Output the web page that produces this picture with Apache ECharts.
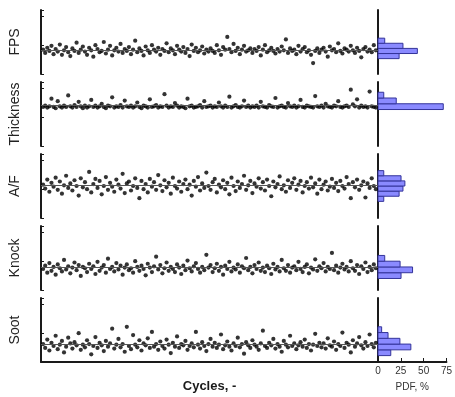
<!DOCTYPE html>
<html>
<head>
<meta charset="utf-8">
<script src="https://cdn.jsdelivr.net/npm/echarts@6/dist/echarts.min.js"></script>
<style>
  html, body { margin: 0; padding: 0; background: #fff; }
  #chart { width: 455px; height: 397px; }
</style>
</head>
<body>
<div id="chart"></div>
<script>
// Per-cycle signals (normalised 0-100 within each panel)
const panelNames = ['FPS', 'Thickness', 'A/F', 'Knock', 'Soot'];

const fpsValues = [
  38,33,41,36,44,31,39,35,46,30,37,42,34,28,40,36,49,33,38,43,
  35,30,41,37,27,45,39,34,36,50,32,38,44,29,37,41,35,47,33,39,
  36,42,31,38,52,34,40,36,29,43,37,33,45,38,35,41,30,39,36,48,
  34,40,37,31,44,38,35,42,33,39,28,46,36,41,34,37,43,32,38,35,
  40,36,33,45,37,30,42,38,58,39,34,47,36,41,31,38,44,35,37,40,
  33,39,36,42,29,38,45,34,37,41,36,32,39,35,43,37,54,33,40,36,
  38,31,44,35,39,42,34,37,30,17,36,40,33,38,41,35,27,43,37,39,
  34,48,36,32,40,38,35,44,37,33,41,36,26,39,42,35,38,34,45,37
];
const thicknessValues = [
  61,63,60,62,74,61,59,70,62,60,63,61,79,62,60,64,61,69,62,59,
  63,60,62,72,61,63,60,62,66,61,59,63,62,76,60,62,61,64,60,71,
  62,61,63,60,62,68,61,59,63,62,60,73,61,62,64,60,62,61,81,63,
  60,62,61,67,63,60,62,61,59,74,62,63,60,61,62,64,60,70,61,62,
  63,60,62,61,68,62,60,63,61,77,60,62,64,61,60,62,71,61,63,60,
  62,61,63,60,69,62,61,60,64,62,61,75,60,62,63,61,60,67,62,61,
  63,60,62,72,61,60,63,62,61,60,78,62,61,63,60,66,62,61,60,63,
  62,70,61,60,62,63,61,88,65,62,73,60,63,61,62,60,85,62,61,60
];
const afValues = [
  52,46,60,41,55,49,63,44,57,38,51,66,47,54,43,59,50,35,62,48,
  56,45,72,40,53,61,47,58,37,50,64,44,55,49,41,60,52,46,69,39,
  54,57,43,50,62,47,31,58,45,53,40,61,49,56,44,67,51,42,59,48,
  55,38,63,50,46,57,41,53,60,45,52,35,58,49,64,43,54,47,71,50,
  44,56,61,40,52,48,59,45,55,37,63,50,42,57,47,53,66,44,51,58,
  39,54,49,62,46,56,43,60,50,34,57,48,53,65,45,51,41,59,47,55,
  62,44,52,58,40,50,56,46,63,48,54,38,60,45,52,57,43,49,61,47,
  55,42,58,50,46,64,53,31,56,48,60,44,51,57,32,54,47,62,50,45
];
const knockValues = [
  33,38,27,42,30,36,24,40,34,29,47,32,37,26,35,43,31,39,22,36,
  34,28,41,33,37,25,44,30,35,39,27,49,33,36,29,42,32,38,24,35,
  40,31,34,27,45,36,30,38,33,23,41,35,28,37,52,32,39,26,34,43,
  30,36,33,28,40,35,25,38,31,46,34,29,37,42,33,27,36,31,55,35,
  39,28,34,41,30,36,24,38,33,44,29,35,32,40,27,37,34,50,31,36,
  26,39,33,43,30,35,28,38,34,25,41,32,36,29,47,34,30,39,27,35,
  37,31,44,33,28,36,40,26,35,32,48,30,37,34,42,29,36,33,58,31,
  38,27,35,41,32,36,29,45,34,30,39,25,37,33,43,28,36,31,40,34
];
const sootValues = [
  28,22,35,18,30,25,41,20,27,33,15,24,38,29,21,31,26,45,19,27,
  23,34,28,12,25,39,22,30,26,17,33,24,29,52,21,27,36,23,28,16,
  55,25,20,42,27,23,34,18,29,26,37,22,47,24,28,19,32,25,21,35,
  27,14,30,24,40,22,28,26,33,19,25,29,23,47,27,21,31,25,17,28,
  36,24,30,22,27,43,20,26,32,24,18,29,25,38,23,28,13,31,26,22,
  34,27,24,19,29,49,25,22,30,26,36,21,28,24,16,33,27,23,41,25,
  29,20,26,31,24,35,22,28,18,27,44,25,30,23,29,21,37,26,24,32,
  19,28,25,46,22,30,27,15,34,24,29,39,26,21,31,25,43,28,23,30
];

// Probability density (%) per bin; bin edges on the same 0-100 scale
const fpsBinEdges = [24, 32, 40, 48, 56];
const fpsPdf = [22, 41, 26, 7];
const thicknessBinEdges = [57, 66, 75, 84];
const thicknessPdf = [68, 19, 6];
const afBinEdges = [26, 34, 42, 50, 58, 66, 74];
const afPdf = [6, 22, 26, 28, 24, 6];
const knockBinEdges = [18, 27, 36, 45, 54];
const knockPdf = [24, 36, 23, 7];
const sootBinEdges = [10, 19, 28, 37, 46, 55];
const sootPdf = [14, 36, 24, 11, 4];

const pdfTicks = [0, 25, 50, 75];

const panelValues = [fpsValues, thicknessValues, afValues, knockValues, sootValues];
const panelBinEdges = [fpsBinEdges, thicknessBinEdges, afBinEdges, knockBinEdges, sootBinEdges];
const panelPdf = [fpsPdf, thicknessPdf, afPdf, knockPdf, sootPdf];

const FONT = '"Liberation Sans", Arial, sans-serif';
const INK = '#1a1a1a';
const tops = [10, 82, 154, 226, 298];
const PANEL_H = 64;

const grids = [], xAxes = [], yAxes = [], series = [];

panelNames.forEach((name, i) => {
  const last = i === panelNames.length - 1;
  const sIdx = 2 * i, hIdx = 2 * i + 1;

  grids.push({ left: 40, top: tops[i], width: 338, height: PANEL_H });
  grids.push({ left: 378, top: tops[i], width: 72, height: PANEL_H });

  // cycle axis
  xAxes.push({
    gridIndex: sIdx, type: 'value', min: 0, max: panelValues[i].length + 1,
    show: last,
    axisLine: { show: last, onZero: false, lineStyle: { color: INK, width: 2 } },
    axisTick: { show: false }, axisLabel: { show: false }, splitLine: { show: false },
    name: last ? 'Cycles, -' : '', nameLocation: 'middle', nameGap: 18,
    nameTextStyle: { fontFamily: FONT, fontSize: 13, fontWeight: 'bold', color: INK }
  });
  // PDF axis
  xAxes.push({
    gridIndex: hIdx, type: 'value', min: pdfTicks[0], max: pdfTicks[pdfTicks.length - 1],
    interval: pdfTicks[1] - pdfTicks[0],
    show: last,
    axisLine: { show: last, onZero: false, lineStyle: { color: INK, width: 2 } },
    axisTick: { show: last, inside: true, length: 4, lineStyle: { color: INK, width: 1 } },
    axisLabel: { show: last, fontFamily: FONT, fontSize: 10, color: '#333', margin: 4 },
    splitLine: { show: false },
    name: last ? 'PDF, %' : '', nameLocation: 'middle', nameGap: 20,
    nameTextStyle: { fontFamily: FONT, fontSize: 10, color: '#333' }
  });

  yAxes.push({
    gridIndex: sIdx, type: 'value', min: 0, max: 100, interval: 45,
    axisLine: { show: true, onZero: false, lineStyle: { color: INK, width: 2 } },
    axisTick: { show: true, inside: true, length: 3, lineStyle: { color: INK, width: 1 } },
    axisLabel: { show: false }, splitLine: { show: false },
    name: name, nameLocation: 'middle', nameRotate: 90, nameGap: 19,
    nameTextStyle: { fontFamily: FONT, fontSize: 14, color: '#222' }
  });
  yAxes.push({
    gridIndex: hIdx, type: 'value', min: 0, max: 100,
    axisLine: { show: true, onZero: false, lineStyle: { color: INK, width: 2 } },
    axisTick: { show: false }, axisLabel: { show: false }, splitLine: { show: false }
  });

  series.push({
    type: 'scatter', xAxisIndex: sIdx, yAxisIndex: sIdx,
    data: panelValues[i].map((v, k) => [k + 1, v]),
    symbolSize: 4.2,
    itemStyle: { color: '#000' },
    silent: true,
    markLine: {
      silent: true, symbol: 'none', label: { show: false },
      lineStyle: { color: '#555', width: 1, type: 'solid' },
      data: [{ type: 'average' }]
    },
    z: 3
  });

  const edges = panelBinEdges[i];
  series.push({
    type: 'custom', xAxisIndex: hIdx, yAxisIndex: hIdx,
    data: panelPdf[i].map((p, k) => [edges[k], edges[k + 1], p]),
    encode: { x: 2, y: [0, 1] },
    silent: true,
    renderItem(params, api) {
      const a = api.coord([0, api.value(1)]);
      const b = api.coord([api.value(2), api.value(0)]);
      return {
        type: 'rect',
        shape: { x: a[0], y: a[1], width: b[0] - a[0], height: b[1] - a[1] },
        style: { fill: '#8a8aff', stroke: '#33339a', lineWidth: 1 }
      };
    },
    z: 2
  });
});

const chart = echarts.init(document.getElementById('chart'), null, { renderer: 'canvas' });
chart.setOption({
  animation: false,
  backgroundColor: '#fff',
  grid: grids,
  xAxis: xAxes,
  yAxis: yAxes,
  series: series
});
</script>
</body>
</html>
